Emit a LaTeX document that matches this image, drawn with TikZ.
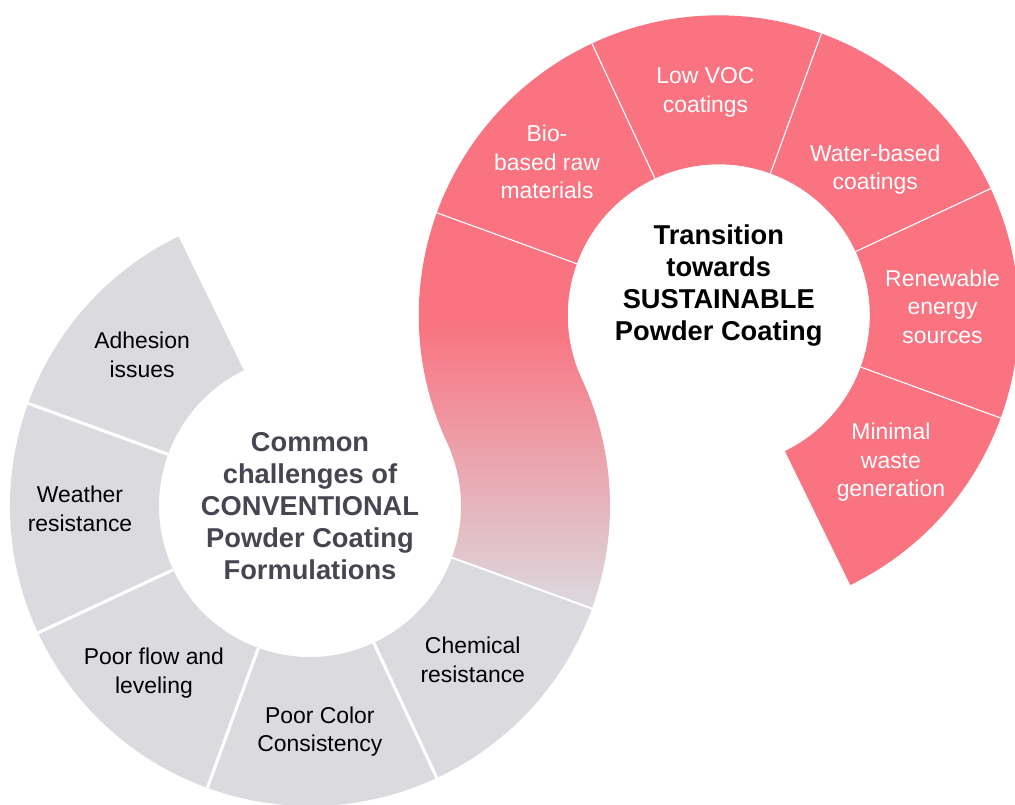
\documentclass[tikz,border=0pt]{standalone}
\usepackage{fontspec}
\setmainfont{Liberation Sans}
\usetikzlibrary{calc}
\definecolor{sustpink}{RGB}{249,115,128}
\definecolor{convgrey}{RGB}{219,218,223}
\definecolor{convtext}{RGB}{70,70,82}
\pgfdeclareverticalshading{bandfade}{100bp}{color(0bp)=(convgrey); color(25bp)=(convgrey); color(61bp)=(sustpink); color(100bp)=(sustpink)}

\begin{document}
\begin{tikzpicture}[
  seg/.style={font=\fontsize{16.3}{20.3}\selectfont, align=center},
  hub/.style={font=\fontsize{19.4}{22.8}\selectfont\bfseries, align=center},
  cut/.style={white, line width=2.2pt}]
  \useasboundingbox (0,0) rectangle (25.375,20.125);
  \def\rin{3.775}
  \def\rout{7.5}
  \coordinate (L) at (7.75,7.475);
  \coordinate (R) at ($(L)+(25:11.275)$);

  \fill[convgrey] ($(L)+(116:\rout)$) arc[start angle=116, end angle=340, radius=\rout]
    -- ($(L)+(340:\rin)$) arc[start angle=340, end angle=116, radius=\rin] -- cycle;
  \fill[sustpink] ($(R)+(-64:\rout)$) arc[start angle=-64, end angle=160, radius=\rout]
    -- ($(R)+(160:\rin)$) arc[start angle=160, end angle=-64, radius=\rin] -- cycle;
  \shade[shading=bandfade] ($(L)+(340:\rin)$) -- ($(L)+(340:\rout)$)
    arc[start angle=340, end angle=385, radius=\rout]
    arc[start angle=205, end angle=160, radius=\rin] -- ($(R)+(160:\rout)$)
    arc[start angle=160, end angle=205, radius=\rout]
    arc[start angle=25, end angle=-20, radius=\rin] -- cycle;

  \foreach \a in {160,205,250,295}
    \draw[cut] ($(L)+(\a:\rin)$) -- ($(L)+(\a:\rout)$);
  \draw[cut, line width=1.4pt] ($(L)+(340:\rin)$) -- ($(L)+(340:\rout)$);
  \foreach \a in {-20,25,70,115,160}
    \draw[cut, line width=0.8pt] ($(R)+(\a:\rin)$) -- ($(R)+(\a:\rout)$);

  \foreach \a/\r/\t [count=\i] in {138/5.65/{Adhesion\\issues},
      180.7/5.75/{Weather\\resistance}, 227/5.72/{Poor flow and\\leveling},
      272.5/5.65/{Poor Color\\Consistency}, 316.6/5.6/{Chemical\\resistance}}
    \node[seg] (conv\i) at ($(L)+(\a:\r)$) {\t};
  \foreach \a/\r/\t [count=\i] in {138.2/5.76/{Bio-\\based raw\\materials},
      93.4/5.58/{Low VOC\\coatings}, 43/5.35/{Water-based\\coatings},
      2.3/5.6/{Renewable\\energy\\sources}, -40.5/5.66/{Minimal\\waste\\generation}}
    \node[seg, white] (sust\i) at ($(R)+(\a:\r)$) {\t};

  \node[hub, convtext] (conv) at (L)
    {Common\\challenges of\\CONVENTIONAL\\Powder Coating\\Formulations};
  \node[hub] (sust) at ($(R)+(0,0.75)$)
    {Transition\\towards\\SUSTAINABLE\\Powder Coating};
\end{tikzpicture}
\end{document}
